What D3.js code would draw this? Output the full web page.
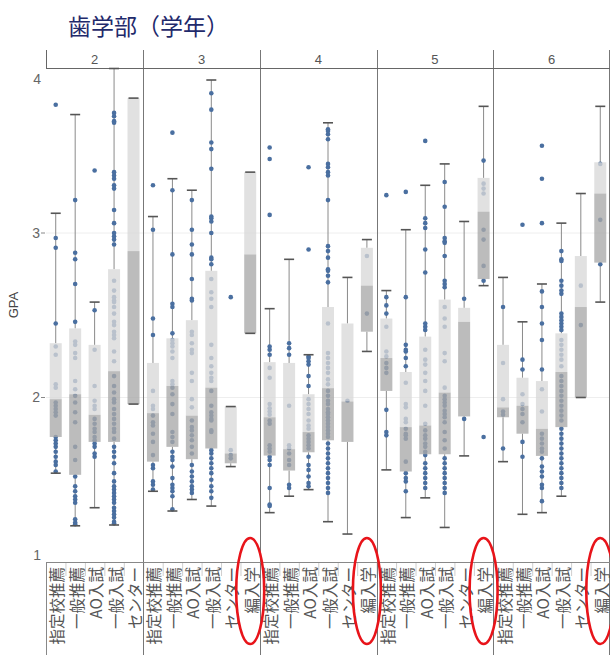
<!DOCTYPE html>
<html><head><meta charset="utf-8">
<script src="https://cdn.jsdelivr.net/npm/d3@7"></script>
<style>body{margin:0;background:#fff}svg{display:block;font-family:"Noto Sans CJK JP","Noto Sans",sans-serif}</style>
</head><body><svg id="c" width="610" height="655"></svg>
<script>
// ---------- data ----------
const title = "歯学部（学年）";
const yLabel = "GPA";
const years = ["2", "3", "4", "5", "6"];
const methods = ["指定校推薦", "一般推薦", "AO入試", "一般入試", "センター", "編入学"];
const yTicks = [1, 2, 3, 4];
const highlighted = "編入学";

// box stats per method: [whiskerLow, Q1, median, Q3, whiskerHigh]
const stats2 = [[1.54,1.76,1.99,2.33,3.12],[1.22,1.53,2.02,2.42,3.72],[1.33,1.73,1.895,2.32,2.58],[1.225,1.73,2.16,2.78,4.0],[1.96,1.96,2.89,3.82,3.82]];
const stats3 = [[1.43,1.61,1.905,2.21,3.10],[1.31,1.70,2.07,2.36,3.33],[1.38,1.625,1.89,2.47,3.26],[1.34,1.69,2.06,2.77,3.93],[1.58,1.60,1.66,1.945,1.945],[2.39,2.39,2.87,3.37,3.37]];
const stats4 = [[1.30,1.647,1.88,2.215,2.54],[1.40,1.556,1.686,2.21,2.84],[1.44,1.667,1.79,2.02,2.26],[1.245,1.74,2.057,2.55,3.67],[1.17,1.73,1.976,2.45,2.73],[2.28,2.40,2.68,2.91,2.96]];
const stats5 = [[1.56,2.04,2.24,2.48,2.65],[1.27,1.55,1.82,2.155,3.02],[1.39,1.655,1.83,2.37,3.29],[1.21,1.655,2.03,2.595,3.42],[1.645,1.885,2.46,2.545,3.07],[2.68,2.72,3.13,3.335,3.77]];
const stats6 = [[1.61,1.88,1.94,2.32,2.73],[1.29,1.78,1.95,2.12,2.46],[1.30,1.645,1.81,2.10,2.69],[1.40,1.82,2.155,2.39,3.06],[2.00,2.00,2.55,2.86,3.24],[2.58,2.82,3.24,3.43,3.77]];

// individual GPA points per method
const dots2 = [
  [3.78,2.97,2.91,2.45,2.31,2.26,2.08,2.06,1.97,1.95,1.93,1.91,1.89,1.76,1.74,1.72,1.70,1.67,1.64,1.61,1.59,1.55],
  [3.20,2.88,2.84,2.69,2.46,2.34,2.32,2.27,2.24,2.10,2.05,2.01,1.97,1.91,1.85,1.70,1.62,1.52,1.46,1.43,1.40,1.38,1.36,1.26,1.24,1.23],
  [3.38,2.53,2.29,2.07,1.98,1.95,1.93,1.87,1.84,1.81,1.79,1.76,1.74,1.72,1.70,1.66,1.64],
  [3.73,3.71,3.68,3.67,3.37,3.35,3.33,3.29,3.27,3.14,3.06,3.00,2.98,2.96,2.93,2.71,2.65,2.61,2.59,2.58,2.55,2.51,2.46,2.44,2.40,2.38,2.36,2.28,2.22,2.13,2.07,2.03,1.99,1.97,1.93,1.90,1.87,1.84,1.81,1.79,1.75,1.70,1.67,1.64,1.60,1.54,1.49,1.46,1.44,1.42,1.40,1.38,1.36,1.33,1.31,1.29,1.27,1.245,1.235],
  []
];
const dots3 = [
  [3.29,3.02,2.48,2.38,2.04,1.95,1.93,1.89,1.85,1.83,1.78,1.73,1.65,1.59,1.57,1.49,1.47,1.44],
  [3.61,3.26,2.87,2.57,2.55,2.39,2.35,2.33,2.31,2.28,2.24,2.10,2.08,2.06,2.02,1.96,1.90,1.79,1.76,1.73,1.67,1.64,1.62,1.58,1.51,1.47,1.45,1.43,1.40,1.32],
  [3.20,3.02,2.93,2.87,2.72,2.60,2.59,2.40,2.38,2.33,2.29,2.27,2.15,2.10,1.99,1.94,1.86,1.82,1.80,1.77,1.74,1.70,1.66,1.59,1.55,1.52,1.49,1.46,1.44,1.42],
  [3.85,3.75,3.55,3.51,3.39,3.10,3.09,3.07,3.00,2.85,2.84,2.81,2.72,2.64,2.60,2.55,2.32,2.24,2.19,2.15,2.12,2.10,2.04,1.95,1.91,1.89,1.87,1.86,1.80,1.79,1.68,1.66,1.63,1.60,1.57,1.54,1.50,1.46,1.43,1.39],
  [2.61,1.68,1.65,1.63],
  []
];
const dots4 = [
  [3.52,3.45,3.11,2.31,2.29,2.26,2.18,2.12,1.96,1.935,1.915,1.895,1.86,1.84,1.71,1.69,1.67,1.64,1.62,1.59,1.45,1.35,1.34],
  [2.33,2.30,2.26,1.95,1.71,1.69,1.66,1.62,1.59,1.47,1.45],
  [3.40,2.90,2.25,2.24,2.22,2.20,2.13,2.07,1.99,1.96,1.93,1.90,1.86,1.83,1.81,1.77,1.75,1.73,1.71,1.69,1.64,1.59,1.56,1.52,1.48,1.46],
  [3.63,3.62,3.60,3.57,3.42,3.40,3.37,3.35,3.20,2.92,2.89,2.85,2.78,2.77,2.74,2.70,2.45,2.27,2.24,2.21,2.18,2.15,2.11,2.08,2.04,2.01,1.98,1.96,1.93,1.91,1.90,1.88,1.86,1.84,1.82,1.80,1.78,1.76,1.72,1.69,1.66,1.63,1.60,1.57,1.54,1.51,1.48,1.45,1.42],
  [1.98],
  [2.86,2.51]
];
const dots5 = [
  [3.23,2.61,2.56,2.51,2.43,2.28,2.25,2.21,2.18,2.15,1.925,1.79,1.77],
  [3.25,2.61,2.32,2.29,2.28,2.24,2.19,2.09,1.96,1.94,1.87,1.85,1.81,1.78,1.77,1.75,1.61,1.54,1.51,1.49,1.43],
  [3.56,3.09,3.06,3.03,2.90,2.76,2.45,2.43,2.41,2.29,2.23,2.20,2.15,2.10,2.04,1.95,1.84,1.80,1.77,1.75,1.72,1.70,1.67,1.65,1.60,1.57,1.54,1.51,1.48,1.45],
  [3.31,3.16,2.97,2.95,2.94,2.86,2.71,2.69,2.67,2.55,2.48,2.43,2.27,2.22,2.06,2.01,1.99,1.97,1.95,1.92,1.90,1.88,1.85,1.79,1.74,1.69,1.63,1.60,1.57,1.54,1.51,1.48,1.45,1.42],
  [2.60,1.87],
  [3.44,3.30,3.27,3.24,3.02,2.96,2.80,2.71,1.76]
];
const dots6 = [
  [2.55,2.21,1.99,1.915,1.895,1.69],
  [3.05,2.23,2.17,2.02,1.96,1.93,1.90,1.85,1.73,1.64],
  [3.53,3.33,3.06,2.645,2.55,2.45,2.35,2.17,2.05,1.915,1.78,1.75,1.72,1.69,1.67,1.63,1.58,1.55,1.52,1.47,1.45,1.37],
  [2.89,2.84,2.83,2.71,2.68,2.65,2.63,2.51,2.49,2.47,2.45,2.43,2.41,2.35,2.32,2.29,2.26,2.23,2.19,2.13,2.10,2.07,2.04,2.01,1.98,1.95,1.92,1.89,1.86,1.81,1.78,1.75,1.72,1.69,1.66,1.63,1.60,1.57,1.54,1.51,1.48,1.45],
  [2.68,2.44],
  [3.42,3.08,2.81]
];

// ---------- build ----------
const statsByYear = [stats2, stats3, stats4, stats5, stats6];
const dotsByYear = [dots2, dots3, dots4, dots5, dots6];
const items = [];
years.forEach((yr, i) => {
  statsByYear[i].forEach((s, j) => {
    items.push({year: yr, method: methods[j], key: yr + "|" + methods[j], s: s, dots: dotsByYear[i][j]});
  });
});

const svg = d3.select("#c");
const plotL = 46, plotR = 610, plotT = 68.5, plotB = 562;
const y = d3.scaleLinear().domain([1, 4]).range([plotB, plotT]);
const x = d3.scaleBand().domain(items.map(d => d.key)).range([plotL, plotR]).padding(0);
const bw = x.bandwidth();
const cx = k => x(k) + bw / 2;

// title
svg.append("text").attr("x", 68).attr("y", 35).attr("font-size", 23).attr("fill", "#1f2a6b").text(title);

// gridlines
svg.append("g").selectAll("line").data(yTicks.filter(t => t > 1 && t < 4)).join("line")
  .attr("x1", plotL).attr("x2", plotR).attr("y1", d => y(d)).attr("y2", d => y(d))
  .attr("stroke", "#eeeeee").attr("stroke-width", 1);

// panel geometry
const panels = years.map(yr => {
  const ks = items.filter(d => d.year === yr).map(d => d.key);
  return {year: yr, x0: x(ks[0]), x1: x(ks[ks.length - 1]) + bw};
});

// label-area separators between categories
svg.append("g").selectAll("line").data(items).join("line")
  .attr("x1", d => x(d.key) + 0.5).attr("x2", d => x(d.key) + 0.5)
  .attr("y1", plotB).attr("y2", plotB + 14)
  .attr("stroke", "#cfcfcf");

// panel verticals
const vg = svg.append("g");
panels.forEach((p, i) => {
  if (i === 0) {
    vg.append("line").attr("x1", p.x0 + 0.5).attr("x2", p.x0 + 0.5).attr("y1", 50).attr("y2", plotT).attr("stroke", "#666");
    vg.append("line").attr("x1", p.x0 + 0.5).attr("x2", p.x0 + 0.5).attr("y1", plotB).attr("y2", 655).attr("stroke", "#888");
  } else {
    vg.append("line").attr("x1", Math.round(p.x0) + 0.5).attr("x2", Math.round(p.x0) + 0.5).attr("y1", 50).attr("y2", 655).attr("stroke", "#777");
  }
});
vg.append("line").attr("x1", 609.5).attr("x2", 609.5).attr("y1", 50).attr("y2", 655).attr("stroke", "#777");

// frame lines
svg.append("line").attr("x1", plotL).attr("x2", plotR).attr("y1", plotT).attr("y2", plotT).attr("stroke", "#666");
svg.append("line").attr("x1", plotL).attr("x2", plotR).attr("y1", plotB + 0.5).attr("y2", plotB + 0.5).attr("stroke", "#888");

// panel headers
svg.append("g").selectAll("text").data(panels).join("text")
  .attr("x", d => (d.x0 + d.x1) / 2).attr("y", 64).attr("text-anchor", "middle")
  .attr("font-size", 13).attr("fill", "#555").attr("font-family", "Arial, 'Liberation Sans', sans-serif")
  .text(d => d.year);

// y axis
const ya = svg.append("g").attr("font-family", "Arial, 'Liberation Sans', sans-serif");
yTicks.forEach(t => {
  const off = t === 4 ? 10.5 : (t === 1 ? -7 : 0);
  ya.append("text").attr("x", t === 4 || t === 1 ? 41 : 40).attr("y", y(t) + off).attr("dy", "0.35em")
    .attr("text-anchor", "end").attr("font-size", 14).attr("fill", "#666").text(t);
  if (t > 1 && t < 4) ya.append("line").attr("x1", 41).attr("x2", 45).attr("y1", y(t)).attr("y2", y(t)).attr("stroke", "#888");
});
svg.append("text").attr("transform", "translate(18,305) rotate(-90)").attr("text-anchor", "middle")
  .attr("font-size", 13).attr("fill", "#444").attr("font-family", "Arial, 'Liberation Sans', sans-serif").text(yLabel);

// boxes
const g = svg.append("g");
const capW = 5, boxW = 6;
items.forEach(d => {
  const c = cx(d.key);
  const [lo, q1, med, q3, hi] = d.s;
  // whiskers
  g.append("line").attr("x1", c).attr("x2", c).attr("y1", y(hi)).attr("y2", y(q3)).attr("stroke", "#8a8a8a");
  g.append("line").attr("x1", c).attr("x2", c).attr("y1", y(q1)).attr("y2", y(lo)).attr("stroke", "#8a8a8a");
  // dots
  g.append("g").selectAll("circle").data(d.dots).join("circle")
    .attr("cx", c).attr("cy", v => y(v)).attr("r", 2.3).attr("fill", "#4a6fa0");
  // box halves
  g.append("rect").attr("x", c - boxW).attr("width", boxW * 2).attr("y", y(q3)).attr("height", Math.max(0, y(med) - y(q3)))
    .attr("fill", "#d9d9d9").attr("fill-opacity", 0.78);
  g.append("rect").attr("x", c - boxW).attr("width", boxW * 2).attr("y", y(med)).attr("height", Math.max(0, y(q1) - y(med)))
    .attr("fill", "#a9a9a9").attr("fill-opacity", 0.78);
  // caps
  [lo, hi].forEach(v => {
    g.append("line").attr("x1", c - capW).attr("x2", c + capW).attr("y1", y(v)).attr("y2", y(v))
      .attr("stroke", "#555").attr("stroke-width", 1.6);
  });
});

// x labels
svg.append("g").selectAll("text").data(items).join("text")
  .attr("transform", d => `translate(${cx(d.key) + 0.5},567) rotate(-90)`)
  .attr("text-anchor", "end").attr("dominant-baseline", "central")
  .attr("font-size", 15.5).attr("fill", "#555").text(d => d.method);

// red ellipses around 編入学
svg.append("g").selectAll("ellipse").data(items.filter(d => d.method === highlighted)).join("ellipse")
  .attr("cx", d => cx(d.key)).attr("cy", 591).attr("rx", 14).attr("ry", 53)
  .attr("fill", "none").attr("stroke", "#e8141a").attr("stroke-width", 2.6);
</script></body></html>
